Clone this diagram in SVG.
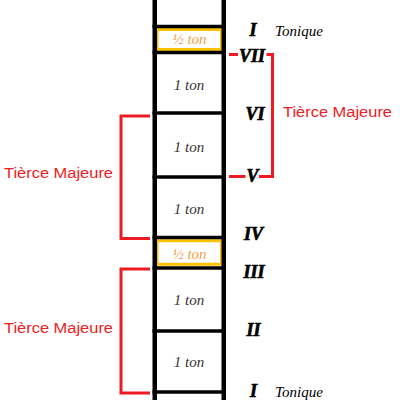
<svg xmlns="http://www.w3.org/2000/svg" width="400" height="400" viewBox="0 0 400 400">
<style>
.rail{stroke:#000;stroke-width:4.5}
.rung{stroke:#000;stroke-width:3.6}
.half{fill:#fff;stroke:#FFC000;stroke-width:3}
.ton{font-family:"Liberation Serif",serif;font-style:italic;font-size:15px;fill:#333;text-anchor:middle}
.hton{font-family:"Liberation Serif",serif;font-style:italic;font-size:15px;fill:#F5A04A;text-anchor:middle}
.deg{font-family:"Liberation Serif",serif;font-style:italic;font-weight:bold;font-size:18px;fill:#000;stroke:#000;stroke-width:0.7;text-anchor:middle}
.ton2{font-family:"Liberation Serif",serif;font-style:italic;font-size:15px;fill:#000}
.tm{font-family:"Liberation Sans",Arial,sans-serif;font-size:15.5px;fill:#ED1C24}
.br{fill:none;stroke:#ED1C24;stroke-width:3}
</style>
<rect width="400" height="400" fill="#fff"/>
<g id="ladder">
<rect class="half" x="157" y="29.5" width="64.5" height="20"/>
<rect class="half" x="157" y="240.75" width="64.5" height="23.5"/>
<line class="rail" x1="154.75" y1="0" x2="154.75" y2="400"/>
<line class="rail" x1="223.75" y1="0" x2="223.75" y2="400"/>
<line class="rung" x1="152.5" y1="26.5" x2="226" y2="26.5"/>
<line class="rung" x1="152.5" y1="52.5" x2="226" y2="52.5"/>
<line class="rung" x1="152.5" y1="113" x2="226" y2="113"/>
<line class="rung" x1="152.5" y1="177" x2="226" y2="177"/>
<line class="rung" x1="152.5" y1="237.5" x2="226" y2="237.5"/>
<line class="rung" x1="152.5" y1="268" x2="226" y2="268"/>
<line class="rung" x1="152.5" y1="331" x2="226" y2="331"/>
<line class="rung" x1="152.5" y1="392" x2="226" y2="392"/>
</g>
<g id="intervals">
<text class="hton" x="189.5" y="44">½ ton</text>
<text class="ton" x="189" y="90">1 ton</text>
<text class="ton" x="189" y="152">1 ton</text>
<text class="ton" x="189" y="214">1 ton</text>
<text class="hton" x="189.5" y="259">½ ton</text>
<text class="ton" x="189" y="305">1 ton</text>
<text class="ton" x="189" y="367">1 ton</text>
</g>
<g id="degrees">
<text class="deg" x="253" y="36">I</text>
<text class="ton2" x="275" y="36">Tonique</text>
<text class="deg" x="252" y="62">VII</text>
<text class="deg" x="255" y="120">VI</text>
<text class="deg" x="252.5" y="182">V</text>
<text class="deg" x="253.5" y="240">IV</text>
<text class="deg" x="254" y="278">III</text>
<text class="deg" x="253.5" y="336">II</text>
<text class="deg" x="253.5" y="397">I</text>
<text class="ton2" x="275" y="397">Tonique</text>
</g>
<g id="connectors">
<path class="br" d="M229,54.5 H238 M266.5,54.5 H272.5 V176.5 H259 M245.5,176.5 H229"/>
<path class="br" d="M150,116 H121 V238.5 H150"/>
<path class="br" d="M150,269 H121 V393 H150"/>
</g>
<g id="labels">
<text class="tm" x="283" y="117" textLength="109" lengthAdjust="spacingAndGlyphs">Tièrce Majeure</text>
<text class="tm" x="4" y="178" textLength="109" lengthAdjust="spacingAndGlyphs">Tièrce Majeure</text>
<text class="tm" x="4" y="333" textLength="109" lengthAdjust="spacingAndGlyphs">Tièrce Majeure</text>
</g>
</svg>
